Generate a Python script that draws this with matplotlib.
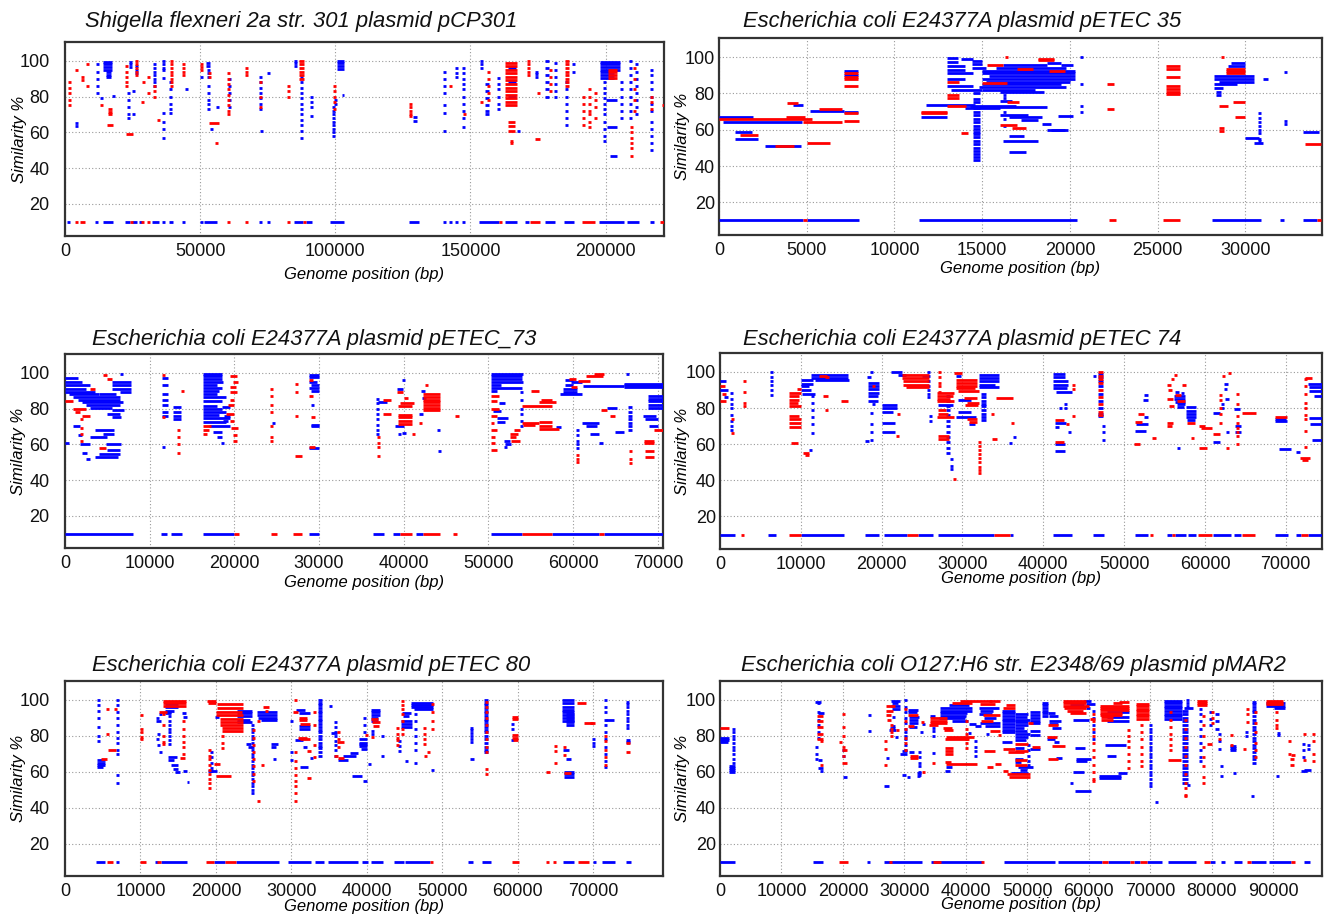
import matplotlib
matplotlib.use("Agg")
import matplotlib.pyplot as plt
from matplotlib.collections import LineCollection

plt.rcParams['font.family'] = ['Liberation Sans', 'DejaVu Sans']

# ---------------------------------------------------------------------------
# data: hits are (start_bp, end_bp, similarity or list of similarities)
# coverage is (start_bp, end_bp), drawn on the 10 % line
# ---------------------------------------------------------------------------

TITLES = [
    "Shigella flexneri 2a str. 301 plasmid pCP301",
    "Escherichia coli E24377A plasmid pETEC 35",
    "Escherichia coli E24377A plasmid pETEC_73",
    "Escherichia coli E24377A plasmid pETEC 74",
    "Escherichia coli E24377A plasmid pETEC 80",
    "Escherichia coli O127:H6 str. E2348/69 plasmid pMAR2",
]
LENGTHS = [221618, 34367, 70609, 74479, 79237, 97978]
XTICKS = [
    [0, 50000, 100000, 150000, 200000],
    [0, 5000, 10000, 15000, 20000, 25000, 30000],
    [0, 10000, 20000, 30000, 40000, 50000, 60000, 70000],
    [0, 10000, 20000, 30000, 40000, 50000, 60000, 70000],
    [0, 10000, 20000, 30000, 40000, 50000, 60000, 70000],
    [0, 10000, 20000, 30000, 40000, 50000, 60000, 70000, 80000, 90000],
]
YTICKS = [20, 40, 60, 80, 100]
COV_LEVEL = 10

# --- pCP301 ---
P1_BLUE = [
    (3700, 3700, [65, 63.5]), (11400, 11400, [98, 94, 90, 86, 82]), (13000, 13000, 79),
    (14200, 17300, [99.5, 98, 96.5, 95]), (15000, 17000, [93.5, 92, 91]), (17300, 17300, 80.5),
    (22800, 22800, [82, 78, 74, 70, 68]), (23500, 23800, [99.5, 98, 96.5]), (24700, 24700, [83, 70]),
    (26000, 26000, [97, 95, 93]), (32700, 32700, [98, 96, 94, 92, 90, 88, 86]),
    (35800, 35800, [100, 98, 96, 95, 90.5, 71, 66, 62, 57]), (38500, 38500, [88, 84, 80, 76, 73, 71]),
    (44400, 44400, 84), (50000, 50000, 91), (52000, 53700, [99, 97]),
    (52500, 52500, [95, 93, 91, 86, 82, 78, 76, 73]), (53700, 53700, 62), (56000, 56000, 74),
    (60300, 60300, [90, 86, 82, 78, 74]), (71800, 71800, [91, 88, 85, 82, 79, 76, 73]),
    (72200, 72200, 61), (74700, 74700, 93), (84600, 85800, [100, 98.5, 97]),
    (87000, 87000, [91, 88, 85, 82, 79, 76, 73, 70, 67, 64, 61, 57]), (90800, 90800, [80, 77, 74, 69]),
    (98800, 100000, [74, 72, 70, 68, 66, 64, 62, 60, 58]), (99500, 99500, [78, 76]),
    (100600, 103100, [100, 98.5, 97, 95.5]), (102300, 102300, 81),
    (128900, 130200, [68.5, 66.5]), (139700, 139700, [94, 90, 86, 82, 75, 71, 61]),
    (144400, 144400, [96, 93, 91]), (147000, 147000, [96, 93, 90, 87, 84, 80, 76, 72, 68, 63]),
    (153600, 153600, [100, 98, 96]), (155500, 156700, [87, 83, 79, 75, 72, 70]),
    (159800, 159800, [90.6, 87, 84, 80, 76, 73]), (164000, 167000, [96, 88, 80]), (167200, 167200, 61),
    (174000, 174000, [94, 92.5, 91]), (177700, 179000, [100, 96, 92, 88, 84, 80]),
    (180800, 180800, [99, 95, 91, 87, 83, 79.6]), (185100, 185100, [88, 84, 80, 76, 72, 68, 64]),
    (187400, 187400, [98, 94]), (198100, 205500, [99.5, 98, 96.5, 95]), (198100, 203000, [93.5, 92, 90.5]),
    (199000, 199000, [88, 85, 82, 79, 76, 73, 70, 66, 62, 58, 55]), (200000, 204300, 78),
    (200600, 204300, 63), (201500, 204300, 46.5), (205500, 205500, [88, 84, 80, 76, 72, 68]),
    (208500, 208500, [100, 96, 92, 88, 84, 80, 76, 72, 68]), (211000, 211000, [98, 94, 90, 86, 82, 78, 74, 70]),
    (216600, 216600, [95, 92, 88, 84, 80, 76, 72, 66, 62, 58, 54, 50]),
]
P1_RED = [
    (1000, 1000, [88, 85, 82, 78, 75]), (3700, 3700, 95), (5800, 5800, [91, 89]), (7700, 7700, [98, 86]),
    (13000, 13000, 75), (16000, 17500, [73, 71.5, 70]), (15500, 17900, 64),
    (22200, 22200, [97, 94, 91, 88, 86]), (22500, 25300, 59), (26000, 26600, [100, 98, 96, 94, 92]),
    (28000, 28000, 77), (28400, 28400, 88), (30300, 30300, [91, 82]), (32700, 32700, [86, 83, 80]),
    (34000, 34000, 67), (38800, 39400, [100, 98, 96, 94, 92, 90, 88, 86]), (43200, 43200, [98, 96, 94, 92]),
    (50000, 50000, [98, 96.5, 95]), (53000, 53000, [93, 91]), (53100, 56800, 65), (55600, 55600, 54),
    (60000, 61100, [93, 90, 87, 84, 81, 78, 75, 72, 70]), (66700, 66700, [96, 94, 92]),
    (71600, 71600, [88, 80, 74]), (82100, 82100, [86, 83, 80]), (86500, 88300, [100, 98, 96, 94, 92, 90]),
    (99000, 99000, [86, 83, 80, 77, 73]), (127100, 127100, [76, 74, 72, 70, 69]), (141900, 141900, 86),
    (147200, 147200, 70), (153600, 153600, 77), (156000, 156000, [94, 90, 86, 82, 78]),
    (162900, 167200, [99, 97, 95, 93, 91, 89, 87, 85, 83, 81, 79, 77, 75]), (164000, 166500, [66, 63.5, 61]),
    (164500, 164500, [55, 54]), (170900, 171500, [100, 98, 96, 94, 92]), (174600, 174600, 82),
    (174000, 175800, 56), (179000, 179000, [95, 91, 87, 83]),
    (185100, 186300, [100, 98, 96, 94, 92, 90, 88, 86]), (191300, 191300, [80, 76, 72, 68, 64]),
    (193500, 193500, [84, 80, 76, 72, 70, 66, 63]), (195600, 195600, [82, 78, 74, 68]),
    (201000, 204300, [95, 93.5, 92, 90.5]), (209200, 209200, [63, 60, 57, 54, 51, 47]),
    (210000, 210000, [96, 90, 84, 78, 72]), (216600, 216600, [80, 77, 73]), (221000, 221600, 75),
]
P1_COV_BLUE = [
    (600, 1850), (11100, 11700), (14200, 17900), (22200, 24000), (24800, 26600), (27200, 28200),
    (32100, 34600), (35800, 37000), (38300, 40100), (43200, 44500), (50000, 50400), (51300, 56200),
    (71600, 72200), (74700, 75100), (84600, 88000), (89000, 91400), (98200, 103100), (127100, 130800),
    (139700, 140100), (141900, 142300), (144400, 144800), (147000, 147500), (153000, 160400),
    (162900, 167200), (170300, 171500), (177700, 181400), (184500, 188200), (197500, 206700),
    (208000, 212300), (216600, 217800),
]
P1_COV_RED = [
    (3700, 4100), (5600, 7400), (24000, 24800), (28200, 28700), (30300, 30700), (60000, 61100),
    (66700, 67100), (82100, 82500), (88000, 89000), (160400, 161000), (172000, 175900),
    (191300, 196200), (220300, 221500),
]

# --- pETEC 35 ---
P2_BLUE = [
    (0, 1950, 66.8), (250, 4750, 64.5), (900, 1900, 58.5), (900, 2200, 55), (2600, 4700, 51),
    (4200, 4800, 73.5), (5200, 7100, 70.5), (7100, 7900, [92.5, 90, 70]),
    (11500, 13000, 67), (11800, 14600, 73.4),
    (13000, 13600, [99.5, 97.5]), (13000, 14000, [95, 93, 88]), (13000, 14500, [91, 84]), (13200, 15000, 82),
    (13800, 14500, 99), (14400, 15000, [98, 96]), (14400, 15200, 94),
    (15000, 20300, [92.5, 91, 88]), (15400, 20300, 89.5), (15200, 20000, 86.5), (15000, 19500, 85),
    (14800, 19800, 83.5), (15000, 18000, 82), (16000, 18500, 80.5),
    (15800, 19800, 94), (16200, 18700, 95.5), (18700, 19500, 97), (19500, 20200, 95.5),
    (14300, 16900, 73.3), (14000, 16000, 72),
    (16000, 17600, 68), (16500, 18400, 67), (17200, 18200, 65.5), (18400, 18900, 63),
    (18900, 19700, 59.8), (18700, 19900, 60),
    (15900, 18700, 72.5), (16500, 17400, 56.5), (16200, 18200, 53.5), (16500, 17500, 47.5),
    (14500, 14900, [80, 77, 75, 72, 70, 68, 66, 64, 62, 60.5, 59, 57.5, 56, 54, 52, 50, 48, 46.5, 45, 43.5]),
    (16000, 16700, 76), (16200, 16300, [79, 77.5, 70, 66, 62]),
    (20600, 20600, [100, 85, 73, 70]), (19300, 20200, 67.5),
    (28200, 30500, [89.5, 88]), (28500, 30500, 86.5), (28200, 29500, 85), (28200, 28700, 83),
    (28300, 28600, [81, 79]), (29200, 30000, 96.5), (29000, 30000, 95),
    (30700, 30700, [69, 66.5, 64, 62, 60, 58, 55, 53.5]), (30000, 30800, 55.4), (30500, 31000, 52.4),
    (31000, 31300, 88), (32200, 32200, [92, 65, 63]), (33300, 34200, 59),
]
P2_RED = [
    (0, 5300, 66), (4800, 7000, 64.5), (3800, 4900, 67), (7100, 8000, 65),
    (1200, 2200, 57), (3200, 4300, 51.2), (3900, 4500, 74.5),
    (5700, 7000, 71.5), (5000, 6300, 52.5), (7100, 7900, [91, 88.8, 88, 84, 69.3]),
    (11500, 13000, [70, 69.3]),
    (18200, 19100, [99.2, 98.2]), (15300, 16200, 95.5), (13000, 13700, [86, 79, 77.5]),
    (15000, 16400, 85.5), (17000, 17900, 93.5), (18800, 19700, 92.5), (13000, 14100, 73),
    (16000, 17000, 62.5), (16700, 17500, 60.7), (16300, 16300, 100), (13800, 14200, 58),
    (16400, 17100, 75), (22100, 22500, [85, 71.5]),
    (25500, 26300, [95, 93.5, 88.8, 83.8, 82.3, 80.8, 79.5]),
    (28900, 30000, [93.5, 92.2, 91]), (28500, 29000, 73), (29400, 30000, 67.2), (29300, 30000, 75.5),
    (28500, 28800, [61, 59.5]), (28600, 28600, 100), (33400, 34300, 52.2),
]
P2_COV_BLUE = [(0, 4800), (5000, 8000), (11400, 20400), (28100, 30900), (32000, 32200), (33300, 34100)]
P2_COV_RED = [(4800, 5000), (22200, 22600), (25300, 26300), (34100, 34300)]

# --- pETEC_73 ---
P3_BLUE = [
    (0, 1500, 97), (0, 2000, 95), (0, 3000, 93), (0, 2500, 91), (0, 3500, 89.5), (500, 4000, 88),
    (1000, 6500, 86.5), (1500, 6500, 85), (2000, 6800, 83.5), (2500, 6500, 82), (3000, 5500, 80.5),
    (5500, 7800, [95, 93, 91]), (6500, 7800, 89), (4000, 6000, 88),
    (5500, 7000, 79), (5000, 6500, 77), (5500, 6600, 75),
    (1000, 1800, 70), (1500, 2000, 65), (1800, 3000, 60), (2000, 2600, 55), (2500, 3000, 51.5),
    (3500, 6200, 53), (4000, 6500, 54.5), (5000, 6500, 57), (4800, 6600, 60), (3000, 5000, 64),
    (3500, 5800, 68), (4500, 5800, 66), (0, 500, 60.5), (6500, 6500, 99.5),
    (11500, 12200, [97, 93, 88, 85, 82, 78, 76]), (11500, 11500, 58.5), (12700, 13700, [81, 78, 76, 74]),
    (16300, 18500, [99.5, 98, 96.5, 91.5, 84, 80]), (16300, 18700, 95), (16300, 18000, [93, 88, 81.5]),
    (16300, 18200, [90, 76.5]), (16300, 19000, [86.5, 78, 72.5]), (16300, 19500, 74.5),
    (17000, 19500, 70.5), (17500, 18500, 67), (18000, 18500, 64), (18400, 18800, 61),
    (18500, 19500, 81), (18800, 19500, 76), (18700, 19200, 73), (24500, 24500, 72),
    (28800, 30000, [99, 97.5, 91.5]), (28800, 29800, 95), (29000, 30000, [93, 90]),
    (29000, 30000, [71, 70]), (28800, 30000, 58), (29000, 29300, 82),
    (36700, 36700, [85.5, 83, 80, 77, 74, 71, 68, 66]), (37000, 38000, 83.5),
    (39800, 39800, 96), (39200, 39900, 91), (39000, 40000, 70), (39300, 39700, 66), (39800, 40300, 66.5),
    (42000, 42500, 90), (42200, 42600, 86), (41800, 42300, 77), (43900, 43900, 68), (44000, 44000, 56),
    (50300, 54100, [99.5, 95]), (50300, 54000, [98, 96.5, 91.5]), (50300, 51500, 93), (50300, 51000, 90),
    (53700, 54100, [89, 85, 80, 77, 73, 70]),
    (51000, 52300, 74.5), (51000, 52000, 72.5), (51300, 52000, 83), (50500, 51500, 78.5),
    (51800, 52500, 62), (52000, 52700, 60), (51800, 52200, 58.5), (58000, 58600, 69.5),
    (58800, 60500, [91, 89.5]), (58500, 61000, 88), (59000, 60000, [93, 96]), (59800, 61000, 95),
    (61200, 66000, 92.5), (66000, 70600, [92, 93, 94]), (68800, 70600, [82, 80.5, 84, 85.5, 87]),
    (60300, 60300, [68, 65, 62, 60, 58]), (61000, 63000, 72), (61500, 62800, 70), (62000, 63000, 66),
    (63000, 63500, 61), (64000, 65200, 80.5), (65000, 66000, 67),
    (66500, 67000, [81, 78, 76, 74, 72, 70, 68]),
    (68200, 69800, 76), (68500, 70000, 74), (69000, 70000, 70), (66200, 66200, 99.5),
]
P3_RED = [
    (0, 1000, 84), (1000, 2500, 80), (2000, 3000, 76), (3000, 3500, 91), (4500, 5000, 99),
    (5000, 5500, 96.5), (1200, 1800, 78), (1800, 1800, [74, 69, 66, 62]), (4000, 4800, 58),
    (11500, 11500, [98.7, 75]), (13700, 13700, 90), (13200, 13200, [68, 64, 60, 55.3]),
    (16300, 17200, 70), (16300, 17000, 68), (16300, 16800, 66),
    (19500, 20300, [98, 89]), (19800, 20400, 95), (19500, 20200, 92), (19500, 20000, [85, 73]),
    (19200, 20000, 82), (19000, 20000, 77), (19600, 20400, 69), (19800, 20300, [65, 62]),
    (24200, 24200, [91, 87, 82, 78, 70, 64, 62]), (27200, 27200, [94, 89, 76]), (27100, 28000, 53.5),
    (28800, 29300, [96, 87]), (28800, 29500, 58.7), (29000, 29500, 75.5),
    (36800, 36800, [64, 61, 58.5, 53.4]), (37500, 38500, [85, 77]),
    (39500, 41200, 83), (39300, 41000, [81.5, 76.5, 75, 73, 71.5]), (39200, 39900, 89.5),
    (40000, 40500, 86), (41000, 41300, 66),
    (42300, 44300, [88, 86.5, 85, 83.5, 82, 80.5, 79]), (42500, 42800, 93), (41800, 42200, 72),
    (46000, 46500, 76),
    (50300, 51200, [87, 80]), (50300, 51000, [84, 76, 68, 57]), (50300, 50700, 72), (50300, 50800, [64, 60.5]),
    (52500, 53500, 66), (52500, 53200, 64), (52700, 53700, 62), (53000, 53700, 68),
    (54000, 56000, 72), (54100, 55500, 71), (55000, 56000, 90), (54000, 57500, 81.5),
    (56000, 58000, 83.5), (56200, 57500, 85), (56000, 58300, 68.5), (56000, 57500, [70.5, 72.5]),
    (59800, 60500, 92), (59500, 60300, 96.5), (60600, 62000, 95.5), (61500, 63500, 98), (62500, 63700, 99.5),
    (60300, 60300, [54, 51.5, 50]), (63300, 64000, 79), (64300, 65000, 76), (66600, 66600, [56, 52, 49.5]),
    (68400, 69500, [62, 60.5]), (68500, 69500, [56, 53]), (69500, 70600, 68),
]
P3_COV_BLUE = [
    (0, 8000), (11300, 12000), (12500, 13800), (16300, 20000), (28800, 30000), (36400, 37700),
    (38700, 39500), (41500, 42300), (50300, 54000), (57500, 63000), (63600, 70600),
]
P3_COV_RED = [
    (20000, 20500), (24300, 25000), (26900, 28000), (39500, 41000), (42300, 44300), (45800, 46300),
    (54000, 57500), (63000, 63600),
]

# --- pETEC 74 ---
P4_BLUE = [
    (0, 800, 95), (0, 1000, 90), (500, 1000, 86), (1200, 1200, [88.6, 85, 82, 80, 76, 73, 70, 68]),
    (6200, 6200, [100, 97, 95, 93, 90, 87]),
    (10000, 11500, [95.5, 93.5]), (10000, 11000, 92), (10000, 11200, 90), (10200, 11800, 88),
    (11300, 11300, [86.8, 83, 79, 75, 71, 66]), (11000, 11400, 56.6),
    (11200, 15800, [98.5, 96.8]), (11800, 16000, 95.3),
    (18500, 18500, 100), (18200, 18700, 97), (18300, 19700, [94, 92, 90.5, 88.5]), (18300, 19500, [86.5, 84]),
    (18800, 19000, 82), (18600, 18600, [77.5, 71, 67, 62.5]), (18000, 18300, 61.7),
    (20100, 21900, [81.5, 79.8]), (20100, 21400, 78), (20100, 21600, 71.5), (20100, 21700, 66.5),
    (21200, 22500, 100), (22000, 23000, 98.5),
    (25000, 26000, 97.5), (25600, 26000, [100, 95, 92.5, 90, 88, 86]), (25800, 25800, [75.8, 73]),
    (28000, 28500, [86.7, 84, 81, 79, 76, 73, 70, 67, 64, 61, 58, 55]), (28400, 28700, [52, 48, 46.5]),
    (27000, 28800, 81.5),
    (29200, 29800, 97.7), (29500, 31000, [84.3, 77.8]), (29200, 31700, 75), (30800, 31500, 71.3),
    (32100, 34500, [98.5, 96.8, 95, 91.5]), (32100, 34000, 93),
    (32300, 32900, [88, 86, 84, 82.5, 81, 79, 77, 75, 73.5]), (36200, 36500, 64), (35800, 36000, 60.7),
    (41200, 42700, [99, 97]), (41200, 43000, [95, 93]), (41200, 42900, 91), (41600, 43600, 88.8),
    (42000, 42000, 80), (42500, 42500, 82), (42600, 42600, 79.8),
    (41400, 42800, 71.5), (41400, 42000, 69.8), (43000, 43300, 66.7), (41400, 42700, [60.2, 56]),
    (46200, 46200, 97.5), (46800, 47400, [99, 97, 95, 92, 88, 84, 80, 77, 75.5]),
    (47300, 47300, [70.3, 66.8, 62.5]),
    (51500, 52900, 71), (51400, 52700, 67.4), (52500, 53000, [75, 87]), (52300, 53000, 84.3),
    (56200, 57500, [86.5, 85]), (56300, 57500, 83.5), (56500, 57500, 82), (56600, 57400, 80.6),
    (56300, 56800, 88.8), (56500, 56500, 58), (57000, 57000, 88.6),
    (57700, 58900, [80.6, 78.4, 77, 75]), (57800, 58800, 73.2),
    (61000, 61800, [77.5, 61.5]), (62000, 62300, [80.3, 82.5]), (62300, 62500, 90.5),
    (62400, 62800, 93.5), (62500, 63000, 85), (62600, 62600, 67),
    (63600, 64300, 79.4), (63700, 64400, [70, 66.8]),
    (68700, 70000, 73.8), (68700, 70100, 72.7), (69200, 70700, 57.3), (71300, 71800, 55.5),
    (72800, 74479, 93.5), (72900, 74479, [91.5, 89.5, 74.6]), (73500, 74479, 86.7),
    (73000, 74479, 71), (73200, 74479, 62.5),
]
P4_RED = [
    (0, 600, 92), (200, 800, 88), (0, 700, 84), (1400, 1400, [73.8, 66.3]), (2800, 2800, [95, 89, 83, 81]),
    (8500, 10000, [88.5, 81, 73.7, 71.5, 69.7]), (8500, 9800, [86.5, 75.5, 84.5]), (8500, 9600, 82.7),
    (8800, 9600, 60.5), (9500, 10000, 90.5), (10300, 11000, 55), (10500, 11000, 53.8),
    (12300, 13200, 98), (13000, 13500, 97), (12800, 13300, 86.7), (15000, 15800, 83.7), (13000, 13400, 79),
    (18800, 18800, 92.4), (21800, 22000, 64.8), (21900, 22100, 77),
    (22500, 25800, [98.2, 96.5]), (22700, 25800, [94.8, 93]), (23000, 25800, 91.5),
    (27000, 27300, [100, 97, 94, 92, 89]),
    (26900, 29000, [88.5, 83.7]), (26900, 28800, 86.7), (26900, 28500, 85), (27000, 28000, 79),
    (27000, 28200, 77), (26900, 28900, 75), (27000, 28300, [64.6, 63]), (28800, 28800, 41),
    (29200, 31800, [95.5, 94, 92.5]), (29200, 31600, 91), (29500, 32000, 89.5), (29000, 30000, 99.5),
    (30200, 31800, 85.8), (30500, 32000, 83), (30300, 31900, 81.7), (30600, 31800, 74), (30800, 31800, 72.5),
    (31900, 31900, [61, 58.8, 56.7, 54.5, 52.2, 50, 47.6, 46, 44]),
    (33500, 33900, 77), (34100, 36300, 85.5), (33600, 34300, 63), (36000, 36000, 72),
    (41500, 42500, 73.4), (42800, 43200, 71), (41400, 42600, 61), (43500, 43500, [75.6, 90.5, 93]),
    (46800, 47400, [100, 98, 96, 94, 90, 86, 82, 78, 76]),
    (51400, 52200, 72.5), (51200, 52000, 60.2), (53400, 54000, 63.6), (51700, 52500, 76.5),
    (55300, 55800, 92.6), (55400, 55900, 90), (55800, 56200, 96.2), (56200, 56500, 98.3),
    (55300, 56000, 84.8), (55500, 56200, 81.2), (55300, 56000, 71.5), (55300, 55900, 70),
    (56500, 57500, 84), (56300, 57000, 87.5), (57200, 57600, 93), (57800, 58800, 71.9), (58300, 58700, 63.5),
    (59300, 60000, 70.2), (59500, 60900, 69), (59200, 60300, 58),
    (61000, 61800, 65.5), (61700, 61700, [87, 84.5, 80, 76.6, 72]), (62100, 62100, 98),
    (62800, 62800, 99.5), (62600, 62600, 58), (63800, 63800, [88, 82, 75.5, 72, 69, 66.6, 64.5, 60]),
    (64600, 66300, 77.3), (68700, 70100, 74.8), (71800, 73000, 52.5), (72000, 72800, 51.2),
    (72200, 72200, [96, 92, 88, 83, 80, 76, 73.8, 67.5, 58.5]), (72400, 73200, 96.5),
]
P4_COV_BLUE = [
    (0, 1800), (6000, 6900), (10000, 15400), (18000, 19700), (20300, 23100), (24500, 26400),
    (27000, 33900), (35900, 36300), (41200, 43500), (46100, 47500), (51400, 53000), (55300, 55900),
    (56300, 57700), (57900, 58900), (61000, 63200), (63600, 64400), (68700, 70300), (71300, 71900),
    (72700, 74479),
]
P4_COV_RED = [
    (2600, 3000), (8500, 10000), (23100, 24500), (33900, 35900), (53200, 53600), (55900, 56300),
    (59100, 60900), (64600, 66200), (71900, 72700),
]

# --- pETEC 80 ---
P5_BLUE = [
    (4300, 4300, [100, 97, 94, 90, 85, 80, 77]), (4300, 5300, [66.5, 65, 63.5]), (4300, 5000, 62.5),
    (6800, 6800, [100, 97, 93, 90, 86, 82, 79, 76, 72, 70, 58, 54]),
    (12000, 12000, [90, 78]), (12200, 12200, [81, 75]), (12500, 12500, [71, 92]), (12000, 12700, 88),
    (13300, 15000, [97.5, 96]), (13300, 14500, 94), (13300, 14000, 92.5),
    (13700, 13700, [93, 91, 88, 86, 84, 82, 80, 77.5, 75.5]),
    (13600, 14800, 68), (13600, 14500, 66.6), (14000, 15000, 63.5), (14300, 15000, 61.8), (14600, 15300, 60),
    (15600, 16100, 60.5), (16100, 16100, 54.3), (15500, 16000, 92.5), (15600, 16100, 90.5),
    (19200, 19200, [71, 68, 65, 62, 60.5]), (19000, 20200, 60.5), (19900, 20400, 90.5),
    (22800, 24800, [93.8, 92.5, 91, 87.5]), (22800, 24500, 89),
    (24700, 25000, [86, 84, 82, 80, 78, 76, 74, 72, 70, 68, 66, 64, 62, 60, 58, 56, 54, 52, 50, 48]),
    (24000, 24600, 75.5), (24200, 24800, 74),
    (25500, 28100, [93, 91.5]), (25600, 28100, 90), (26000, 28100, 89),
    (27300, 28200, 75.5), (27300, 28000, 73.5), (27500, 27500, 67), (29800, 29800, [88.5, 71, 66.5]),
    (30600, 31800, 94.5), (31000, 32400, [92.5, 84]), (31000, 32500, 85.2), (30500, 31500, 77.8),
    (31500, 32000, 74), (31200, 32200, 62.5), (32400, 32400, 67.8),
    (33500, 34100, [100, 98.5, 97, 95.5, 94, 92.5, 91, 89.5, 88, 86.5, 85, 83.5, 82, 80, 78, 76, 74.5, 73, 71, 69]),
    (35000, 35000, 96.5), (35700, 35700, [87.5, 85, 82, 80, 77, 75, 72, 69]), (35300, 36000, 81.7),
    (36200, 37500, 66.5), (36800, 38500, 69), (37800, 38800, 70.5), (38000, 39300, 57.5),
    (39000, 40000, [78, 76, 75.7, 74.3]), (39200, 40000, 72.8), (39500, 39500, [90, 86, 82]),
    (39500, 40000, 55), (40200, 40200, 64.5),
    (40500, 41800, [94.5, 93, 91.5]), (40500, 41500, [90, 88.5]), (40500, 41000, [82.5, 81]),
    (41900, 41900, 68.5), (41900, 42200, 80), (44100, 44100, [77.2, 74.5, 71.5]), (45000, 45000, 66),
    (44600, 45900, 92.5), (44800, 45600, 91), (44500, 46000, [88.2, 86.5, 85]),
    (45800, 48700, [98.5, 97.3, 96]), (46200, 48700, 95), (46300, 46300, [92, 88, 84, 80, 76, 72, 65]),
    (48500, 48500, 61), (53700, 53700, [84.6, 83, 81.5, 80, 78.5, 76.7]), (53600, 54200, 67),
    (55500, 56000, [100, 98.5, 97, 95.5, 94, 92.5, 91, 89.5, 88, 86.5, 85, 83.5, 82, 80, 78, 76, 74, 72, 71]),
    (59100, 59100, [86.5, 84, 77.5]),
    (65900, 67400, [100, 98, 96, 94.5, 93, 91.5, 90, 88.5]), (66400, 67500, [92, 90.5, 89, 87.5, 86]),
    (66000, 66800, 72.3), (66400, 67100, 67), (66100, 67400, [60, 58.5, 57]),
    (69800, 69800, [78, 76, 74.5]), (71400, 71400, [100, 96, 93, 89, 86, 82, 78, 74, 70, 66, 62.5]),
    (71700, 72800, 88.8), (74400, 74700, [99, 97.5, 96, 94, 92, 90, 88, 86, 84.3]),
    (74300, 74900, [77.5, 76.5]),
]
P5_RED = [
    (4800, 5500, 67), (5400, 5400, [95, 81]), (5700, 6700, 72), (6500, 6500, 95),
    (9900, 10300, 91.5), (9900, 10400, [84, 82, 79.5, 78]), (13000, 16000, [99.5, 98, 96.6]),
    (12900, 12900, [92, 86, 80, 76.6, 75.3]), (12500, 13500, 93),
    (15500, 15500, [88, 84, 80, 76.6, 74, 70]), (15300, 15900, 67.5),
    (18800, 20000, 99.5), (19000, 20000, 98), (19000, 19000, [72, 69, 67, 64, 61, 58.5, 56, 53.5, 51]),
    (20000, 22000, 57.5), (19800, 20500, 64.4),
    (20200, 23600, [97.5, 95.5]), (20000, 23500, 93.5), (20000, 23600, 91.5),
    (20500, 23600, [89.5, 87.5, 86]), (20800, 23600, [84.3, 82.8]), (20700, 20700, [80, 76, 73]),
    (24800, 24800, [83, 79, 75, 71, 67, 63, 59, 55]), (25400, 25400, 44),
    (26300, 27000, 96), (26500, 26800, 94), (25500, 25800, 88), (26000, 26000, 64),
    (30300, 30300, [100, 71, 66, 62, 58, 55, 52, 48, 44]), (30200, 30900, 93.5),
    (31000, 32000, [90, 88.6]), (31200, 32400, 86.3), (30900, 32000, 79), (31200, 32500, 78.5),
    (32000, 32600, [56.5, 71.6]), (32900, 32900, [93, 86, 75, 68]),
    (36000, 37000, 76.5), (36000, 36000, [82, 78, 74]), (35600, 36200, 68.7), (36200, 37000, 67.5),
    (39700, 39700, 80.6), (40600, 41500, 89.5), (40700, 41800, 87.6), (40800, 41600, 85.5), (40500, 41000, 79.5),
    (43800, 43800, [84.6, 81, 79, 77.5, 75]), (44500, 44500, [99.5, 97, 95, 92, 88, 84, 81]),
    (47400, 47400, [84.6, 81, 78, 75.4]), (47600, 47600, 69), (48500, 48500, [97.8, 93, 88, 84]),
    (48000, 48400, 71), (55600, 55600, [99, 96, 93, 90, 86, 82, 78, 74, 71, 61.5, 59]),
    (59200, 60000, [90.5, 89.4, 80.5, 79]), (59300, 60000, 77.6),
    (63700, 64300, 60), (64800, 64800, [74.3, 71.5, 64.6]), (66000, 66000, [73.8, 69.2]), (66100, 67000, 59.5),
    (67900, 69100, 98.5), (68800, 69900, 87), (69600, 70200, 87.2),
    (71400, 71400, [80, 77, 72, 68, 64]), (74300, 74900, 70.8), (74300, 74800, 76),
]
P5_COV_BLUE = [
    (4100, 5300), (6800, 7200), (11900, 12100), (12700, 16100), (19800, 21200), (22600, 28300),
    (29600, 32600), (33100, 34300), (34900, 38800), (39300, 40100), (40500, 42200), (43600, 44900),
    (45000, 48400), (53400, 54100), (55300, 56400), (66000, 67500), (69900, 70100), (71200, 72900),
    (74300, 75000),
]
P5_COV_RED = [
    (5600, 6400), (9900, 10700), (12200, 12700), (18700, 19800), (21200, 22600), (48400, 48700),
    (59200, 60100), (63700, 64000), (64600, 65100), (68000, 69400),
]

# --- pMAR2 ---
P6_BLUE = [
    (0, 1400, [78.8, 77.5]), (0, 1300, 76.3), (1900, 1900, [83.7, 82, 80, 78, 76, 74, 72, 70, 67, 65]),
    (1500, 2400, [63, 62, 61, 60]),
    (15500, 16500, 99), (15800, 16200, 98), (15800, 15800, [93, 89, 86, 82, 79]), (16000, 17000, 92.8),
    (15400, 15400, [74, 69.8, 67]), (16000, 16600, 66.5), (16000, 16800, 62), (16200, 16700, 60.5),
    (19900, 19900, [72, 69]), (20000, 20700, 57.2), (24100, 24100, [91.7, 82.8]),
    (27000, 27000, 67.7), (26700, 27500, 52),
    (27800, 29300, [99.5, 96.8]), (28000, 29000, 98), (28000, 29300, 95), (28000, 28500, [90.7, 85.7]),
    (27700, 28500, 84.5), (27500, 28700, 83), (28500, 28500, 79.5),
    (29900, 29900, [100, 96, 93, 90, 87, 84, 82, 80, 78, 75, 72]), (29300, 30500, 69.8),
    (29700, 30500, 71.3), (30400, 30400, 57), (29700, 30200, 58.4),
    (30600, 32200, 94.6), (30600, 32000, 93.5), (30700, 32400, 90.2), (30800, 32200, 88.7),
    (30800, 32300, 87.1), (30800, 32000, 85), (30800, 31500, 70.9),
    (32200, 32200, [71, 68, 65, 63, 60, 58.4]), (32000, 32700, 59.5), (32100, 32600, 57.8),
    (32500, 32900, 82), (32800, 32800, 86.5), (34200, 35000, 91), (34500, 34500, [84.3, 82.8, 80, 70.6]),
    (35800, 41000, [95.3, 94]), (35800, 40200, 92.6), (35800, 40000, 91.2), (35600, 39800, 89.7),
    (37300, 40500, 97), (37700, 40300, 88.2), (40500, 41600, 86.5),
    (36800, 37800, 62.4), (36700, 37400, 60.5), (40300, 40300, 81.5), (41400, 41800, [77, 74, 71.5, 69]),
    (41500, 42500, 85.5),
    (42200, 45400, 95.3), (42300, 44500, 93.8), (42200, 44300, 92.3), (43000, 45000, 89.9),
    (42300, 45500, 87.3), (43200, 45600, 85.5), (43300, 43600, 80.9),
    (45900, 48000, [94, 92.5, 91, 89.5, 88, 86.5, 85, 83.5, 82]), (45900, 47500, 76.3),
    (48000, 50200, [92, 87.6, 86, 79.2]), (48000, 50000, [90.5, 82.5]), (48000, 50500, [89, 80.8]),
    (48000, 49500, [84.5, 73]), (48000, 49800, 77.5),
    (48000, 49300, 67), (48000, 49000, 65.2), (48800, 50000, 61), (47300, 50200, 59.5), (48500, 51000, 62.4),
    (49900, 49900, [75, 72, 69, 66, 64]),
    (50500, 52100, [93, 91.5, 90, 88.5, 87]), (50500, 52000, [82.5, 80.5, 72.5]),
    (52400, 53400, [98.5, 97, 95.5, 94, 92.5, 91]),
    (53400, 54500, 92.6), (53500, 55000, [90.8, 86.4]), (53600, 55500, 88.1), (54000, 55500, 84.5),
    (53300, 54500, 78), (54300, 55200, 76.6), (54700, 55700, 67.7),
    (57000, 59300, 97.4), (59500, 61000, 97.5), (59200, 60400, 99.5), (59500, 60300, 95.5), (57500, 60000, 89),
    (57700, 59400, 73), (57900, 60400, 67.3), (57900, 59800, 66), (57400, 59200, 59.9), (57700, 60400, 49.4),
    (56900, 56900, 53.8), (60600, 60600, [94, 90, 86, 82, 78]),
    (63000, 66600, [93.5, 90.5, 88.5]), (62600, 66100, 74.8), (63000, 64500, 68.8),
    (61700, 65200, [57.5, 56.5]), (64800, 66200, 59.4),
    (69800, 70200, [86, 84, 82, 80, 78, 76, 74, 72, 70, 68, 66, 64, 62, 60, 58, 56, 54, 52]), (70800, 70800, 43),
    (72300, 75200, [99.3, 98, 96.6, 95.2, 93.8, 92.4, 91, 89.6]),
    (75200, 76200, [94, 92, 90, 88, 86, 84, 82, 80, 78, 76, 74, 72, 70, 68, 66, 64, 62, 60, 58, 56, 54]),
    (76000, 76000, 52.5), (75500, 77000, 95.2), (75800, 75800, [100, 98, 96.5]),
    (77900, 77900, [95, 92, 88, 84, 80, 76, 72, 68, 66]),
    (79600, 79600, [93, 89.5, 86]), (80500, 81200, [92, 88, 84]), (81000, 81000, [81, 77, 72.5]),
    (81300, 81300, 63), (81400, 81400, 57.5), (83000, 84000, [74.6, 73.4, 72.2]), (83500, 83500, 59.4),
    (85400, 85400, [82, 80]),
    (86600, 87300, [99, 97.5, 96, 94.5, 93, 91, 89, 87, 85, 83, 81, 79, 77, 75, 73, 71, 69, 67, 65]),
    (86500, 86500, 46.5), (88900, 91900, [98, 96.8]), (90200, 91900, 95.5), (90600, 90600, [81.5, 80.5]),
    (90500, 90500, 57.9), (94800, 94800, [75.7, 72, 68]), (94500, 95500, 60.3), (95500, 95500, [75, 72.5]),
    (95000, 96200, 61),
]
P6_RED = [
    (0, 1500, 84.6), (15800, 16800, [91, 88, 85, 81, 78]), (16300, 16300, [77, 64]),
    (19800, 19800, [92, 85, 80, 74]), (19800, 20600, 72), (19800, 20400, 68.5), (19900, 20600, 65),
    (19300, 19300, 76.5), (26700, 26700, [77, 72.5, 64]),
    (27000, 28500, 96.5), (27000, 28200, 94), (27000, 27800, 91.6), (27200, 27800, 88.7),
    (27600, 27600, [86, 84, 82, 80]), (28700, 28700, 83.5), (30000, 30000, [95, 88, 84, 79, 76, 72]),
    (30600, 32200, 91.8), (30600, 31500, 85.6), (30900, 32200, 68.8), (31000, 32300, 67.6),
    (32800, 32800, 60), (32700, 32700, 87.5),
    (34200, 37000, [89.8, 88.4, 87.3]), (34000, 35500, 86), (34500, 34500, 64.9),
    (37800, 41000, 98), (36800, 41300, 79.5), (36600, 40500, 78.3), (36300, 37800, 84.5), (36500, 38000, 83),
    (36600, 38000, 73.2), (36700, 38000, [71.5, 70]), (36800, 41800, 64.5), (36700, 37600, 65.5),
    (39900, 39900, [88, 84, 81, 78, 76, 73]),
    (39100, 44300, 99.3), (42300, 44800, 97.5), (43800, 45500, 99.3), (42800, 45500, 91.4),
    (42500, 44500, 88.5), (44000, 45600, 82.8), (45300, 45300, 80.7),
    (43000, 44800, 71.6), (43500, 44500, 62.6), (44700, 45700, 64.5),
    (46000, 48000, [95.3, 72.5]), (46500, 48000, 97.1), (46000, 46800, 60.7),
    (48000, 50200, [75.4, 71.4]), (48000, 50000, [66.3, 63.8]), (46700, 50500, 58.5), (47000, 50500, 57.3),
    (46800, 49500, 71), (50200, 51000, 87), (50800, 52000, 74),
    (53400, 55000, [85.8, 67.3]), (53200, 54800, 79.4), (54000, 56200, 74.5),
    (55900, 59500, [99.3, 98]), (55900, 60000, 96.6), (56000, 59500, 95.2), (56500, 59000, 93.8),
    (57000, 59500, 92.5), (60600, 60600, [92, 88, 84, 80, 76, 72, 68, 64, 60, 56, 55]), (60200, 61000, 89.5),
    (61800, 66600, [96.8, 95.5, 94.2]), (61800, 65500, [92.8, 91.5]), (62000, 64000, [90.2, 89]),
    (64000, 65500, 98), (65000, 66500, 99), (66300, 66300, [83, 80, 77, 74, 70, 66, 62]),
    (67700, 69900, [97.8, 96.4, 95, 93.7, 92.3, 90.9, 89.5]), (68300, 68300, [86, 82, 78, 74, 70, 66, 63]),
    (72900, 75000, 66.3), (73100, 73100, [93, 89, 85, 81, 78, 75, 72]),
    (75500, 75500, [89, 84, 79, 74, 69, 64, 59, 54, 51, 47]), (75500, 76000, 46.5),
    (77600, 79200, [99.5, 98.2, 97]), (78500, 78500, [91, 86, 80, 74, 68, 63, 57, 54]),
    (79900, 79900, [93, 90, 87]), (79300, 80000, 75.5), (81000, 81000, 78), (83000, 83000, [80.5, 75]),
    (85200, 85200, 72.6), (85600, 85600, [95, 92, 87.5]), (86900, 86900, [93, 87, 82, 76, 72, 68]),
    (88900, 91700, [99.5, 98.5, 97.5]), (90300, 90300, [93, 89, 86, 84.6]),
    (92900, 93600, 69.5), (92800, 93500, [67, 63.5]), (92500, 92500, [77, 70]),
    (94900, 94900, [80.9, 66.7]), (96400, 96400, [81, 77, 70, 66]),
]
P6_COV_BLUE = [
    (0, 2400), (15200, 16700), (24000, 24300), (26700, 32900), (34300, 42600), (46300, 54600),
    (55000, 62200), (63200, 66700), (67300, 68400), (69500, 71900), (72900, 77400), (79800, 80500),
    (81500, 82200), (83600, 85000), (86400, 88800), (89400, 92900), (95000, 96000),
]
P6_COV_RED = [
    (19400, 20800), (27500, 27900), (34600, 36000), (42500, 42800), (62200, 63200), (66700, 67300),
    (68400, 69500), (78800, 79800), (85700, 86400), (92900, 93600),
]

BLUE_HITS = [P1_BLUE, P2_BLUE, P3_BLUE, P4_BLUE, P5_BLUE, P6_BLUE]
RED_HITS = [P1_RED, P2_RED, P3_RED, P4_RED, P5_RED, P6_RED]
COV_BLUE = [P1_COV_BLUE, P2_COV_BLUE, P3_COV_BLUE, P4_COV_BLUE, P5_COV_BLUE, P6_COV_BLUE]
COV_RED = [P1_COV_RED, P2_COV_RED, P3_COV_RED, P4_COV_RED, P5_COV_RED, P6_COV_RED]

# layout in pixels of the 1324x916 figure: (left, top, right, bottom)
W, H = 1324, 916
BOXES = [(65, 42, 664, 236), (719, 38, 1322, 235),
         (65, 354, 663, 548), (720, 353, 1322, 549),
         (65, 681, 663, 876), (720, 681, 1322, 876)]
TITLE_POS = [(85, 21), (743, 21), (92, 339), (743, 339), (92, 666), (741, 665)]
XLABEL_Y = [274, 268, 583, 578, 907, 905]

BLUE = '#0000ff'
RED = '#ff0000'
MIN_MARK = 0.005   # smallest drawn hit, as a share of the plasmid length


def hit_segments(hits, length):
    segs = []
    for x0, x1, sims in hits:
        if not isinstance(sims, list):
            sims = [sims]
        x1 = max(x1, x0 + MIN_MARK * length)
        for s in sims:
            segs.append([(x0, s), (x1, s)])
    return segs


def cov_segments(cov, length):
    return [[(x0, COV_LEVEL), (max(x1, x0 + MIN_MARK * length), COV_LEVEL)] for x0, x1 in cov]


fig = plt.figure(figsize=(W / 100, H / 100), dpi=100)

for i in range(6):
    l, t, r, b = BOXES[i]
    ax = fig.add_axes([l / W, 1 - b / H, (r - l) / W, (b - t) / H])
    length = LENGTHS[i]

    for segs, col in [(hit_segments(BLUE_HITS[i], length), BLUE), (cov_segments(COV_BLUE[i], length), BLUE),
                      (hit_segments(RED_HITS[i], length), RED), (cov_segments(COV_RED[i], length), RED)]:
        lc = LineCollection(segs, colors=col, linewidths=2.0, capstyle='butt', zorder=3)
        ax.add_collection(lc)

    ax.set_xlim(0, length)
    ax.set_ylim(2, 110.5)
    ax.set_xticks(XTICKS[i])
    ax.set_xticklabels([str(v) for v in XTICKS[i]])
    ax.set_yticks(YTICKS)
    ax.grid(True, linestyle=(0, (1, 2)), color='#999999', linewidth=0.8, zorder=0)
    ax.set_axisbelow(True)
    left_col = (i % 2 == 0)
    ax.tick_params(axis='both', length=0, labelsize=13, colors='#111111')
    ax.tick_params(axis='y', pad=11 if left_col else 3)
    ax.tick_params(axis='x', pad=5)
    for sp in ax.spines.values():
        sp.set_linewidth(1.6)
        sp.set_color('#333333')

    ax.set_xlabel('Genome position (bp)', style='italic', fontsize=12)
    ax.xaxis.label.set_va('center')
    ax.xaxis.set_label_coords(0.5, (b - XLABEL_Y[i]) / (b - t))
    ax.set_ylabel('Similarity %', style='italic', fontsize=12)
    ax.yaxis.label.set_va('center')
    ylab_x = 19 if left_col else 683
    ax.yaxis.set_label_coords((ylab_x - l) / (r - l), 0.5)

    tx, ty = TITLE_POS[i]
    fig.text(tx / W, 1 - ty / H, TITLES[i], style='italic', fontsize=15.8,
             ha='left', va='center', color='#111111')

fig.savefig('out.png', dpi=100)
